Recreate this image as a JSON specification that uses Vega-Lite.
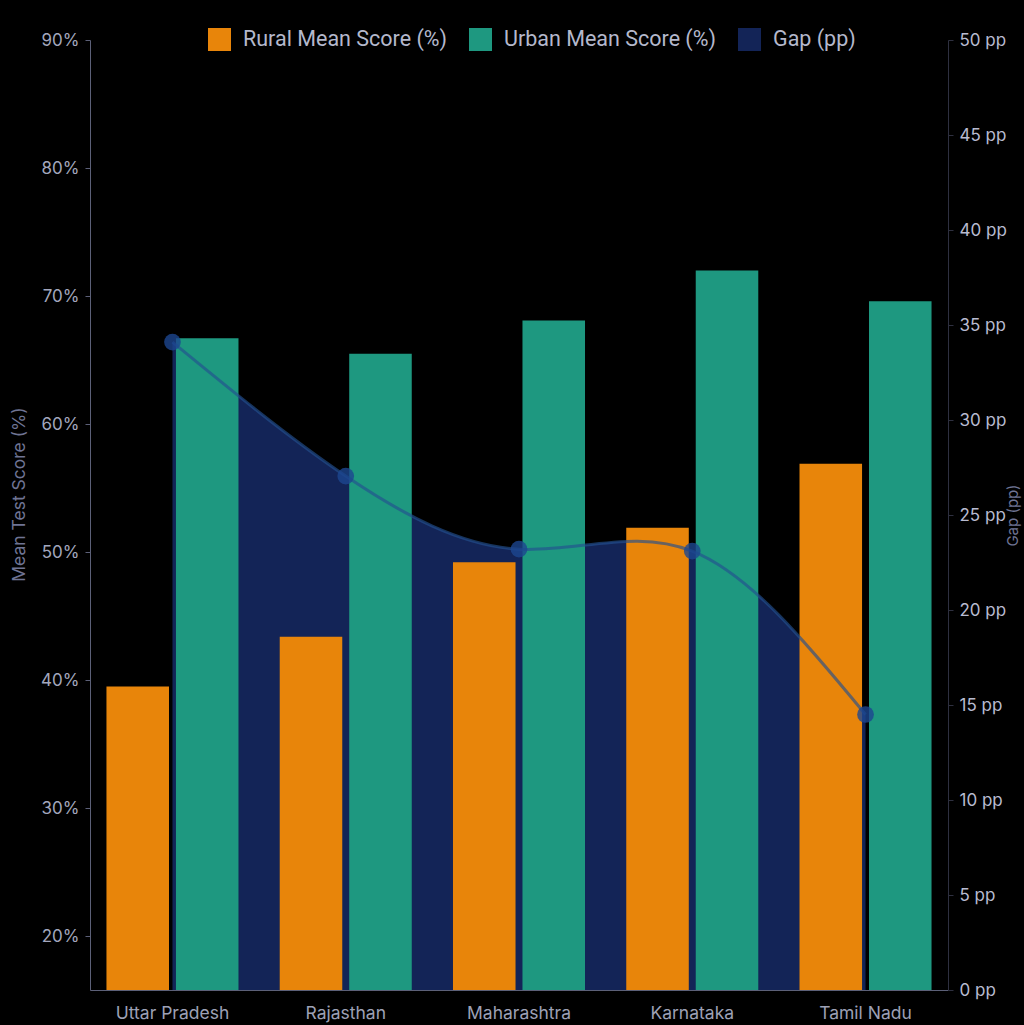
{
  "$schema": "https://vega.github.io/schema/vega-lite/v6.json",
  "width": 858,
  "height": 950,
  "autosize": "none",
  "padding": {"left": 90, "top": 40, "right": 76, "bottom": 35},
  "background": "#000000",
  "view": {"stroke": null},
  "config": {
    "font": "Roboto",
    "axis": {
      "grid": false,
      "domainColor": "#5c6078",
      "tickColor": "#5c6078",
      "labelColor": "#a3a7bd",
      "labelFont": "Inter",
      "labelFontSize": 17,
      "titleColor": "#6f7494",
      "titleFont": "Inter",
      "titleFontSize": 17.5,
      "titleFontWeight": "normal"
    },
    "legend": {
      "labelColor": "#b4b8cc",
      "labelFont": "Roboto",
      "labelFontSize": 21.5,
      "labelLimit": 0,
      "symbolType": "square",
      "symbolSize": 529,
      "symbolStrokeWidth": 0,
      "labelOffset": 12,
      "columnPadding": 22
    }
  },
  "datasets": {
    "scores": [
      {"state": "Uttar Pradesh", "series": "Rural Mean Score (%)", "value": 39.5},
      {"state": "Uttar Pradesh", "series": "Urban Mean Score (%)", "value": 66.7},
      {"state": "Rajasthan", "series": "Rural Mean Score (%)", "value": 43.4},
      {"state": "Rajasthan", "series": "Urban Mean Score (%)", "value": 65.5},
      {"state": "Maharashtra", "series": "Rural Mean Score (%)", "value": 49.2},
      {"state": "Maharashtra", "series": "Urban Mean Score (%)", "value": 68.1},
      {"state": "Karnataka", "series": "Rural Mean Score (%)", "value": 51.9},
      {"state": "Karnataka", "series": "Urban Mean Score (%)", "value": 72.0},
      {"state": "Tamil Nadu", "series": "Rural Mean Score (%)", "value": 56.9},
      {"state": "Tamil Nadu", "series": "Urban Mean Score (%)", "value": 69.6}
    ],
    "gaps": [
      {"state": "Uttar Pradesh", "gap": 34.1},
      {"state": "Rajasthan", "gap": 27.05},
      {"state": "Maharashtra", "gap": 23.2},
      {"state": "Karnataka", "gap": 23.1},
      {"state": "Tamil Nadu", "gap": 14.5}
    ]
  },
  "encoding": {
    "x": {
      "field": "state",
      "type": "nominal",
      "sort": ["Uttar Pradesh", "Rajasthan", "Maharashtra", "Karnataka", "Tamil Nadu"],
      "scale": {"paddingInner": 0.238, "paddingOuter": 0.095},
      "axis": {"title": null, "labelAngle": 0, "ticks": false, "labelPadding": 14, "labelFontSize": 17.5, "labelColor": "#9da1b6"}
    }
  },
  "layer": [
    {
      "data": {"name": "gaps"},
      "mark": {"type": "area", "interpolate": "natural", "opacity": 1},
      "encoding": {
        "y": {
          "field": "gap",
          "type": "quantitative",
          "scale": {"domain": [0, 50], "nice": false, "zero": true},
          "axis": {
            "orient": "right",
            "title": "Gap (pp)",
            "titleAngle": 270,
            "titleFontSize": 15,
            "titleX": 72,
            "titleY": 475,
            "values": [0, 5, 10, 15, 20, 25, 30, 35, 40, 45, 50],
            "labelExpr": "datum.value + ' pp'",
            "labelColor": "#b8bbd0",
            "domainColor": "#2e3040",
            "tickColor": "#2e3040",
            "labelPadding": 6
          }
        },
        "color": {"datum": "Gap (pp)"}
      }
    },
    {
      "data": {"name": "scores"},
      "mark": {"type": "bar", "clip": true},
      "encoding": {
        "xOffset": {"field": "series", "type": "nominal", "scale": {"paddingInner": 0.1, "paddingOuter": 0}},
        "y": {
          "field": "value",
          "type": "quantitative",
          "scale": {"domain": [15.8, 90], "nice": false, "zero": false},
          "axis": {
            "orient": "left",
            "title": "Mean Test Score (%)",
            "titleY": 454,
            "titlePadding": 12,
            "values": [20, 30, 40, 50, 60, 70, 80, 90],
            "labelExpr": "datum.value + '%'",
            "tickSize": 5,
            "labelPadding": 6
          }
        },
        "color": {
          "field": "series",
          "type": "nominal",
          "scale": {
            "domain": ["Rural Mean Score (%)", "Urban Mean Score (%)", "Gap (pp)"],
            "range": ["#e8850a", "#1e9880", "#132457"]
          },
          "legend": {"title": null, "orient": "none", "direction": "horizontal", "legendX": 118, "legendY": -12}
        }
      }
    },
    {
      "data": {"name": "gaps"},
      "mark": {"type": "line", "interpolate": "natural", "color": "#24508f", "strokeWidth": 3, "opacity": 0.65},
      "encoding": {
        "y": {"field": "gap", "type": "quantitative", "scale": {"domain": [0, 50], "nice": false, "zero": true}, "axis": null}
      }
    },
    {
      "data": {"name": "gaps"},
      "mark": {"type": "point", "filled": true, "shape": "circle", "size": 280, "color": "#1d4690", "opacity": 0.8},
      "encoding": {
        "y": {"field": "gap", "type": "quantitative", "scale": {"domain": [0, 50], "nice": false, "zero": true}, "axis": null}
      }
    }
  ],
  "resolve": {"scale": {"y": "independent"}}
}
